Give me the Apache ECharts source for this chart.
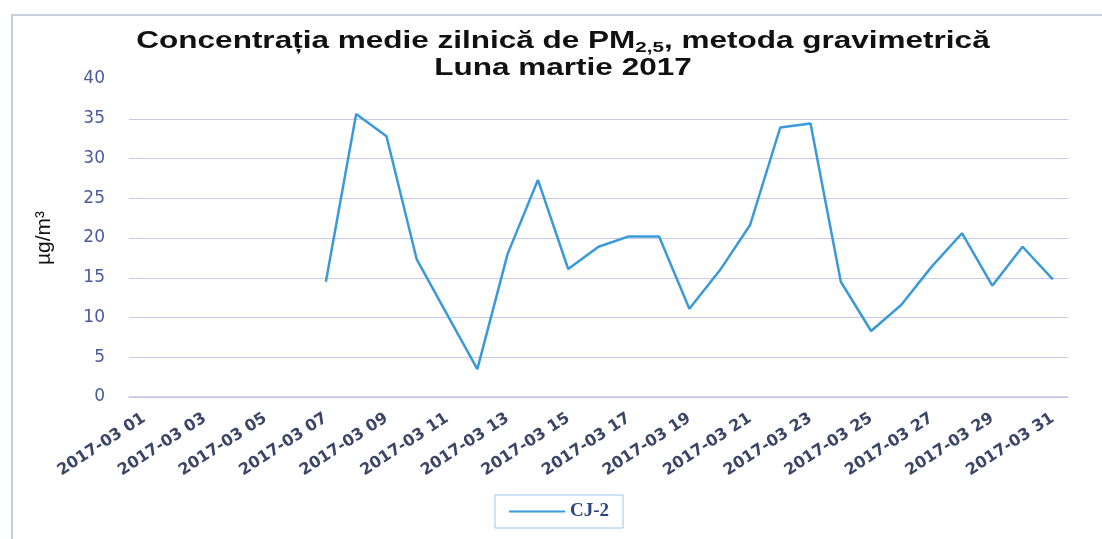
<!DOCTYPE html>
<html>
<head>
<meta charset="utf-8">
<script src="https://cdn.jsdelivr.net/npm/echarts@6/dist/echarts.min.js"></script>
<style>
  html, body { margin: 0; padding: 0; background: #fff; }
  #main { width: 1102px; height: 539px; }
</style>
</head>
<body>
<div id="main"></div>
<script>
// zile din martie 2017
var days = []
for (var d = 1; d <= 31; d++) {
  days.push('2017-03 ' + (d < 10 ? '0' + d : d))
}
// CJ-2, valori (lipsa pana pe 07)
var cj2 = [null, null, null, null, null, null,
  14.5, 35.6, 32.8, 17.3, 10.4, 3.5, 18.0, 27.3, 16.1, 18.9, 20.2, 20.2,
  11.1, 15.9, 21.6, 33.9, 34.4, 14.5, 8.3, 11.6, 16.4, 20.6, 14.0, 18.9, 14.8]
var yTicks = [0, 5, 10, 15, 20, 25, 30, 35, 40]
var titlu1 = 'Concentrația medie zilnică de PM{s|2,5}, metoda gravimetrică'
var titlu2 = 'Luna martie 2017'

var myChart = echarts.init(document.getElementById('main'))
myChart.setOption({
  animation: false,
  backgroundColor: '#fff',
  legend: {
    left: 495,
    top: 495,
    padding: [7, 14, 7, 14],
    borderColor: '#9cc8ec',
    borderWidth: 1,
    itemWidth: 56,
    itemHeight: 14,
    itemGap: 0,
    textStyle: { fontFamily: 'Liberation Serif, serif', fontSize: 19, color: '#2a4680', fontWeight: 'bold' },
    data: [{ name: 'CJ-2', icon: 'path://M0,6 L56,6 L56,8 L0,8 Z' }]
  },
  grid: { left: 129, right: 34, top: 79, bottom: 142 },
  xAxis: {
    type: 'category',
    data: days,
    boundaryGap: true,
    axisLine: { lineStyle: { color: '#c4c4e6', width: 1.5 } },
    axisTick: { interval: 0, length: 5, lineStyle: { color: '#c4c4e6' } },
    axisLabel: {
      interval: 1,
      rotate: 33,
      margin: 20,
      fontFamily: 'DejaVu Sans, sans-serif',
      fontWeight: 'bold',
      fontSize: 16,
      color: '#3a4668'
    }
  },
  yAxis: {
    type: 'value',
    min: yTicks[0],
    max: yTicks[yTicks.length - 1],
    interval: 5,
    name: 'µg/m³',
    nameLocation: 'middle',
    nameGap: 74,
    nameTextStyle: { fontFamily: 'Liberation Sans, Arial', fontSize: 21, color: '#111' },
    axisLine: { show: false },
    axisTick: { show: false },
    axisLabel: {
      margin: 24,
      fontFamily: 'DejaVu Sans, sans-serif',
      fontSize: 17,
      color: '#4a5a9c'
    },
    splitLine: { showMaxLine: false, lineStyle: { color: '#c8c8ea', width: 1.2 } }
  },
  series: [{
    name: 'CJ-2',
    type: 'line',
    data: cj2,
    showSymbol: false,
    connectNulls: false,
    lineStyle: { color: '#3a9ad9', width: 2.5 },
    itemStyle: { color: '#3a9ad9' }
  }],
  graphic: [{
    type: 'rect',
    shape: { x: 12, y: 15, width: 1100, height: 540 },
    style: { fill: 'none', stroke: '#b8c0d0', lineWidth: 1.5 },
    silent: true
  }, {
    type: 'text',
    x: 563,
    y: 42,
    scaleX: 1.37,
    z: 100,
    style: {
      text: titlu1,
      align: 'center',
      verticalAlign: 'middle',
      font: 'bold 23px "Liberation Sans", Arial',
      fill: '#111',
      rich: {
        s: { font: 'bold 15px "Liberation Sans", Arial', fill: '#111', padding: [12, 0, 0, 0] }
      }
    }
  }, {
    type: 'text',
    x: 563,
    y: 69,
    scaleX: 1.37,
    z: 100,
    style: {
      text: titlu2,
      align: 'center',
      verticalAlign: 'middle',
      font: 'bold 23px "Liberation Sans", Arial',
      fill: '#111'
    }
  }]
})
</script>
</body>
</html>
